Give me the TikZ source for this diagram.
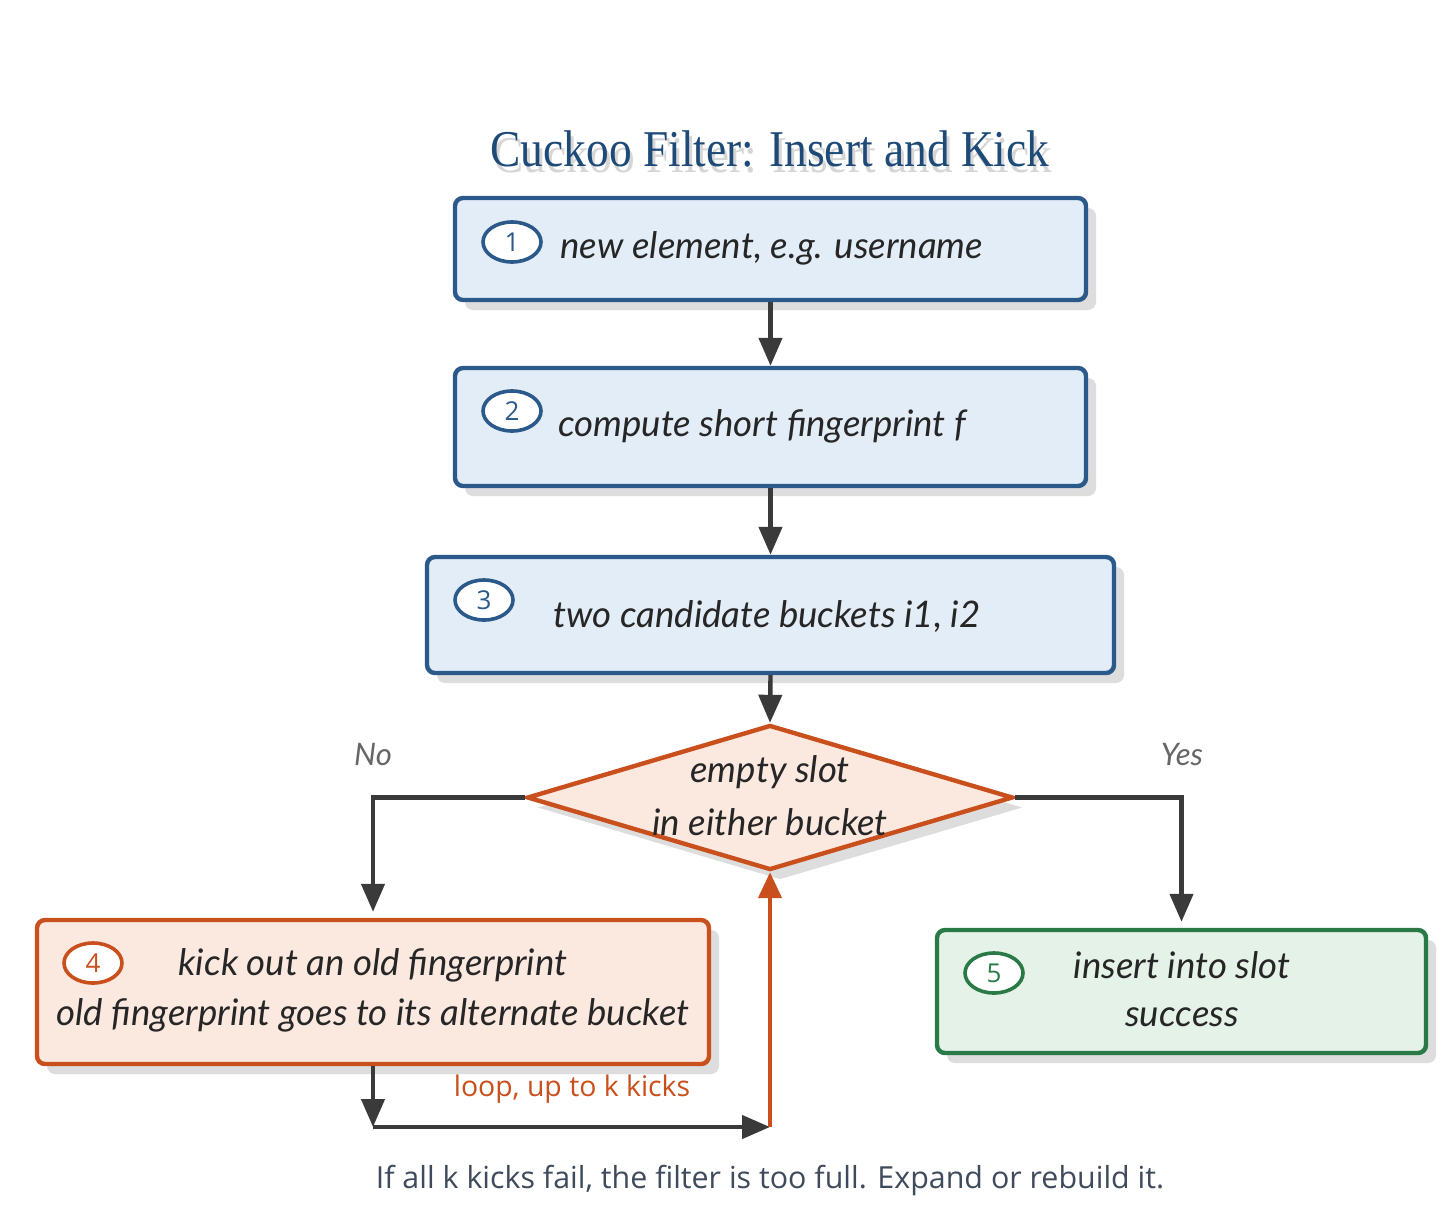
\documentclass[tikz,border=0pt]{standalone}
\usepackage{fontspec}
\setmainfont{Lato}
\newfontfamily\handfont{Lato}
\newfontfamily\uifont{Open Sans}
\newfontfamily\titlefont{Liberation Serif}[FakeStretch=0.88]
\usetikzlibrary{shapes.geometric,arrows.meta,shadows}
\definecolor{bluebd}{HTML}{2B5A8A}
\definecolor{bluefill}{HTML}{E3EDF8}
\definecolor{orbd}{HTML}{C9501C}
\definecolor{orfill}{HTML}{FBE9E0}
\definecolor{grbd}{HTML}{2A7A48}
\definecolor{grfill}{HTML}{E5F2E8}
\definecolor{arrowc}{HTML}{3A3A3A}
\definecolor{titlec}{HTML}{1E4A78}
\definecolor{footc}{HTML}{3F4B5C}
\definecolor{shadowc}{HTML}{DDDDDD}
\tikzset{
  shadowed/.style={drop shadow={shadow xshift=5pt, shadow yshift=-5pt, fill=shadowc, opacity=1}},
  box/.style={rectangle, rounded corners=4pt, line width=2.2pt, shadowed, inner sep=0pt},
  bluebox/.style={box, draw=bluebd, fill=bluefill},
  orbox/.style={box, draw=orbd, fill=orfill},
  grbox/.style={box, draw=grbd, fill=grfill},
  numc/.style={ellipse, draw=#1, line width=1.8pt, fill=white, minimum width=29pt, minimum height=20pt, inner sep=0pt, text=#1, font=\uifont\fontsize{13}{15}\selectfont},
  hand/.style={font=\handfont\itshape\fontsize{18.3}{21}\selectfont, text=black!85, inner sep=0pt},
  arr/.style={draw=arrowc, line width=2.2pt, -{Triangle[length=14pt,width=11.5pt]}},
  loopar/.style={draw=orbd, line width=2.2pt, -{Triangle[length=13pt,width=11.5pt]}},
  lbl/.style={font=\handfont\itshape\fontsize{15.5}{18}\selectfont, text=black!60, inner sep=0pt},
}
\begin{document}
\begin{tikzpicture}[x=0.5pt, y=-0.5pt]
\useasboundingbox[fill=white] (0,0) rectangle (1456,1221);
% title
\node[font=\titlefont\fontsize{25.8}{30}\selectfont, text=black!16, anchor=base] (titleshadow) at (773,172) {Cuckoo Filter: Insert and Kick};
\node[font=\titlefont\fontsize{25.8}{30}\selectfont, text=titlec, anchor=base] (title) at (770,166) {Cuckoo Filter: Insert and Kick};
% boxes
\node[bluebox, minimum width=315.5pt, minimum height=51pt] (b1) at (770.5,249) {};
\node[bluebox, minimum width=315.5pt, minimum height=59pt] (b2) at (770.5,427) {};
\node[bluebox, minimum width=343.5pt, minimum height=58pt] (b3) at (770.5,615) {};
\node[diamond, draw=orbd, fill=orfill, line width=2.2pt, shadowed, inner sep=0pt, minimum width=243pt, minimum height=72.5pt] (dia) at (770,797.5) {};
\node[orbox, minimum width=336pt, minimum height=72pt] (b4) at (373,992) {};
\node[grbox, minimum width=244.5pt, minimum height=61.5pt] (b5) at (1181.5,991.5) {};
% numbers
\node[numc=bluebd] (n1) at (512,242) {1};
\node[numc=bluebd] (n2) at (512,411) {2};
\node[numc=bluebd] (n3) at (484,600) {3};
\node[numc=orbd] (n4) at (93,963) {4};
\node[numc=grbd] (n5) at (994,973) {5};
% texts
\node[hand, anchor=base west] (t1) at (560,258) {new element, e.g. username};
\node[hand, anchor=base west] (t2) at (558,436) {compute short fingerprint f};
\node[hand, anchor=base west] (t3) at (553,627) {two candidate buckets i1, i2};
\node[hand, anchor=base] (td1) at (770,782) {empty slot};
\node[hand, anchor=base] (td2) at (770,835) {in either bucket};
\node[hand, anchor=base] (t4a) at (373,975) {kick out an old fingerprint};
\node[hand, anchor=base] (t4b) at (373,1025) {old fingerprint goes to its alternate bucket};
\node[hand, anchor=base] (t5a) at (1182,978) {insert into slot};
\node[hand, anchor=base] (t5b) at (1182,1026) {success};
\node[lbl, anchor=base] (no) at (373,765) {No};
\node[lbl, anchor=base] (yes) at (1182,765) {Yes};
\node[font=\uifont\fontsize{14.2}{16}\selectfont, text=orbd, anchor=base, inner sep=0pt] (looplbl) at (572,1096) {loop, up to k kicks};
\node[font=\uifont\fontsize{15.2}{18}\selectfont, text=footc, anchor=base, inner sep=0pt] (foot) at (770,1188) {If all k kicks fail, the filter is too full. Expand or rebuild it.};
% connectors
\draw[arr] (b1.south) -- (b2.north);
\draw[arr] (b2.south) -- (b3.north);
\draw[arr] (b3.south) -- (dia.north);
\draw[arr, shorten >=3pt] (dia.west) -| (b4.north);
\draw[arr, shorten >=3pt] (dia.east) -| (b5.north);
\coordinate (lb) at (373,1127);
\coordinate (rb) at (770,1127);
\draw[arr] (b4.south) -- (lb);
\draw[arr] (lb) -- (rb);
\draw[loopar] (rb) -- (dia.south);
\end{tikzpicture}
\end{document}
